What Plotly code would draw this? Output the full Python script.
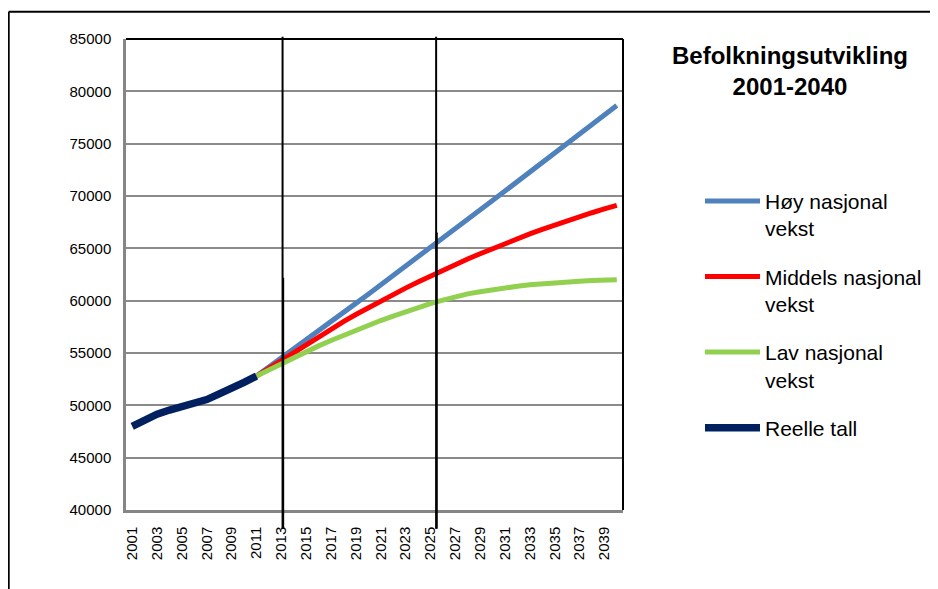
import plotly.graph_objects as go

# ---- data ----
years_actual = list(range(2001, 2012))
actual = [48000, 48650, 49150, 49550, 49850, 50150, 50550, 51100, 51750, 52200, 52800]

years_proj = list(range(2011, 2041))
high = [52800, 53650, 54520, 55390, 56260, 57130, 58000, 58870, 59740, 60620,
        61500, 62390, 63280, 64170, 65070, 65970, 66870, 67770, 68670, 69570,
        70470, 71370, 72270, 73170, 74070, 74970, 75870, 76770, 77700, 78640]
mid = [52800, 53550, 54300, 55080, 55840, 56580, 57300, 58000, 58680, 59340,
       59980, 60600, 61200, 61785, 62355, 62910, 63450, 63975, 64485, 64980,
       65460, 65925, 66375, 66810, 67230, 67635, 68025, 68400, 68760, 69105]
low = [52800, 53400, 54000, 54600, 55150, 55680, 56200, 56700, 57180, 57650,
       58100, 58530, 58950, 59350, 59720, 60050, 60360, 60650, 60850, 61050,
       61230, 61380, 61510, 61620, 61710, 61790, 61860, 61920, 61970, 62000]

series_names = ["Høy nasjonal<br>vekst", "Middels nasjonal<br>vekst",
                "Lav nasjonal<br>vekst", "Reelle tall"]
x_tick_years = list(range(2001, 2040, 2))
y_ticks = list(range(40000, 85001, 5000))
divider_years = [2013.1, 2025.46]
title_text = "Befolkningsutvikling<br>2001-2040"

FONT = "Liberation Sans, Arial, sans-serif"

W, H = 930, 581  # page adds an 8px body margin

fig = go.Figure()
fig.add_trace(go.Scatter(x=years_proj, y=high, mode="lines", name=series_names[0],
                         legendgroup="a", line=dict(color="#4F81BD", width=5)))
fig.add_trace(go.Scatter(x=years_proj, y=mid, mode="lines", name=series_names[1],
                         legendgroup="b", line=dict(color="#FF0000", width=5)))
fig.add_trace(go.Scatter(x=years_proj, y=low, mode="lines", name=series_names[2],
                         legendgroup="c", line=dict(color="#92D050", width=5)))
fig.add_trace(go.Scatter(x=years_actual, y=actual, mode="lines", name=series_names[3],
                         legendgroup="d", line=dict(color="#002060", width=7.5)))

shapes = []
# plot frame: top and right black borders
shapes.append(dict(type="line", xref="paper", yref="paper", x0=0, x1=1, y0=1, y1=1,
                   line=dict(color="black", width=2), layer="above"))
shapes.append(dict(type="line", xref="paper", yref="paper", x0=1, x1=1, y0=0, y1=1,
                   line=dict(color="black", width=2), layer="above"))
# outer chart frame (left and top)
shapes.append(dict(type="line", xref="paper", yref="paper", x0=-0.236, x1=-0.236, y0=-0.2, y1=1.058,
                   line=dict(color="black", width=2)))
shapes.append(dict(type="line", xref="paper", yref="paper", x0=-0.236, x1=1.7, y0=1.058, y1=1.058,
                   line=dict(color="black", width=2)))
# vertical divider lines
extra_tops = [0.493, 0.589]
for yr, top in zip(divider_years, extra_tops):
    shapes.append(dict(type="line", xref="x", yref="paper", x0=yr, x1=yr, y0=-0.04, y1=1.005,
                       line=dict(color="black", width=2), layer="above"))
    shapes.append(dict(type="line", xref="x", yref="paper", x0=yr + 0.05, x1=yr + 0.05, y0=-0.04, y1=top,
                       line=dict(color="black", width=2), layer="above"))

fig.update_layout(
    width=W, height=H,
    margin=dict(l=118, r=314, t=31, b=79),
    paper_bgcolor="white", plot_bgcolor="white",
    font=dict(family=FONT, color="black"),
    title=dict(text=title_text, x=782 / W, xanchor="center", xref="container",
               y=1 - 56 / H, yref="container", yanchor="top",
               font=dict(family=FONT, size=24, color="black", weight="bold")),
    showlegend=True,
    legend=dict(x=1.1526, xanchor="left", y=0.699, yanchor="top",
                font=dict(family=FONT, size=21, color="black"),
                itemwidth=55, tracegroupgap=18, valign="top",
                bgcolor="rgba(0,0,0,0)", traceorder="grouped"),
    shapes=shapes,
    xaxis=dict(range=[2000.5, 2040.5], tickvals=x_tick_years, ticktext=[str(y) for y in x_tick_years],
               tickangle=-90, showgrid=False, zeroline=False, showline=True,
               linecolor="#868686", linewidth=2.5, ticks="", ticklabelstandoff=8,
               tickfont=dict(family=FONT, size=15, color="black")),
    yaxis=dict(range=[40000, 85000], tickvals=y_ticks, tickformat="d",
               showgrid=True, gridcolor="#8a8a8a", gridwidth=1.5, zeroline=False,
               showline=True, linecolor="#868686", linewidth=2.5, ticks="",
               ticklabelstandoff=9,
               tickfont=dict(family=FONT, size=15, color="black")),
)

fig.write_html("out.html")
